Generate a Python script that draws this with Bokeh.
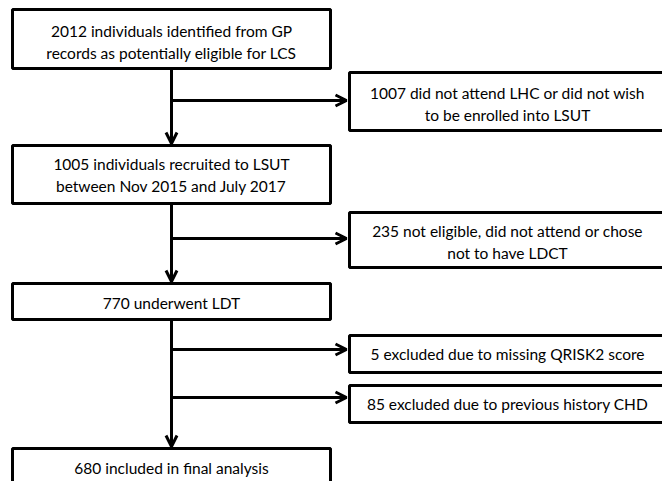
from bokeh.plotting import figure
from bokeh.models import Range1d, Arrow, OpenHead, ColumnDataSource
from bokeh.core.properties import value
from bokeh.embed import file_html
from bokeh.resources import INLINE

# ---- content ----
main_labels = [
    "2012 individuals identified from GP\nrecords as potentially eligible for LCS",
    "1005 individuals recruited to LSUT\nbetween Nov 2015 and July 2017",
    "770 underwent LDT",
    "680 included in final analysis",
]
side_labels = [
    "1007 did not attend LHC or did not wish\nto be enrolled into LSUT",
    "235 not eligible, did not attend or chose\nnot to have LDCT",
    "5 excluded due to missing QRISK2 score",
    "85 excluded due to previous history CHD",
]

# ---- layout (page pixel coordinates) ----
main_left, main_right = 12, 330
main_top = [9, 145, 283, 448]
main_bot = [68, 203, 319, 500]
main_text_y = [[30, 52], [163, 185], [302], [467]]
main_cx = 171

side_left, side_right = 349, 690
side_top = [72, 212, 335, 385]
side_bot = [130, 267, 372, 422]
side_text_y = [[92, 114], [230, 252], [353], [403]]
side_cx = 507
branch_y = [100, 238, 349, 397]

W, H = 662, 481
p = figure(width=W, height=H, output_backend="svg", toolbar_location=None,
           x_range=Range1d(0, W), y_range=Range1d(H, 0),
           min_border=0, outline_line_color=None)
p.axis.visible = False
p.grid.visible = False
p.background_fill_color = "white"
p.border_fill_color = "white"

LW = 3
FONT = value("Lato")
FS = "15.5px"

# trunk lines + vertical arrows
for i in range(3):
    p.add_layout(Arrow(x_start=main_cx, y_start=main_bot[i], x_end=main_cx, y_end=main_top[i + 1] - 2,
                       line_width=LW, line_color="black",
                       end=OpenHead(size=11, line_width=LW, line_color="black")))

# horizontal branch arrows
for j in range(4):
    p.add_layout(Arrow(x_start=main_cx, y_start=branch_y[j], x_end=side_left - 3, y_end=branch_y[j],
                       line_width=LW, line_color="black",
                       end=OpenHead(size=11, line_width=LW, line_color="black")))

# boxes
p.quad(left=[main_left] * 4, right=[main_right] * 4, top=main_top, bottom=main_bot,
       fill_color="white", line_color="black", line_width=LW)
p.quad(left=[side_left] * 4, right=[side_right] * 4, top=side_top, bottom=side_bot,
       fill_color="white", line_color="black", line_width=LW)

# texts
tx, ty, tt = [], [], []
for lab, ys in zip(main_labels, main_text_y):
    for line, y in zip(lab.split("\n"), ys):
        tx.append(main_cx); ty.append(y); tt.append(line)
for lab, ys in zip(side_labels, side_text_y):
    for line, y in zip(lab.split("\n"), ys):
        tx.append(side_cx); ty.append(y); tt.append(line)
src = ColumnDataSource(dict(x=tx, y=ty, t=tt))
p.text(x="x", y="y", text="t", source=src, text_font=FONT, text_font_size=FS,
       text_align="center", text_baseline="middle", text_color="black")

open("out.html", "w").write(file_html(p, INLINE))
